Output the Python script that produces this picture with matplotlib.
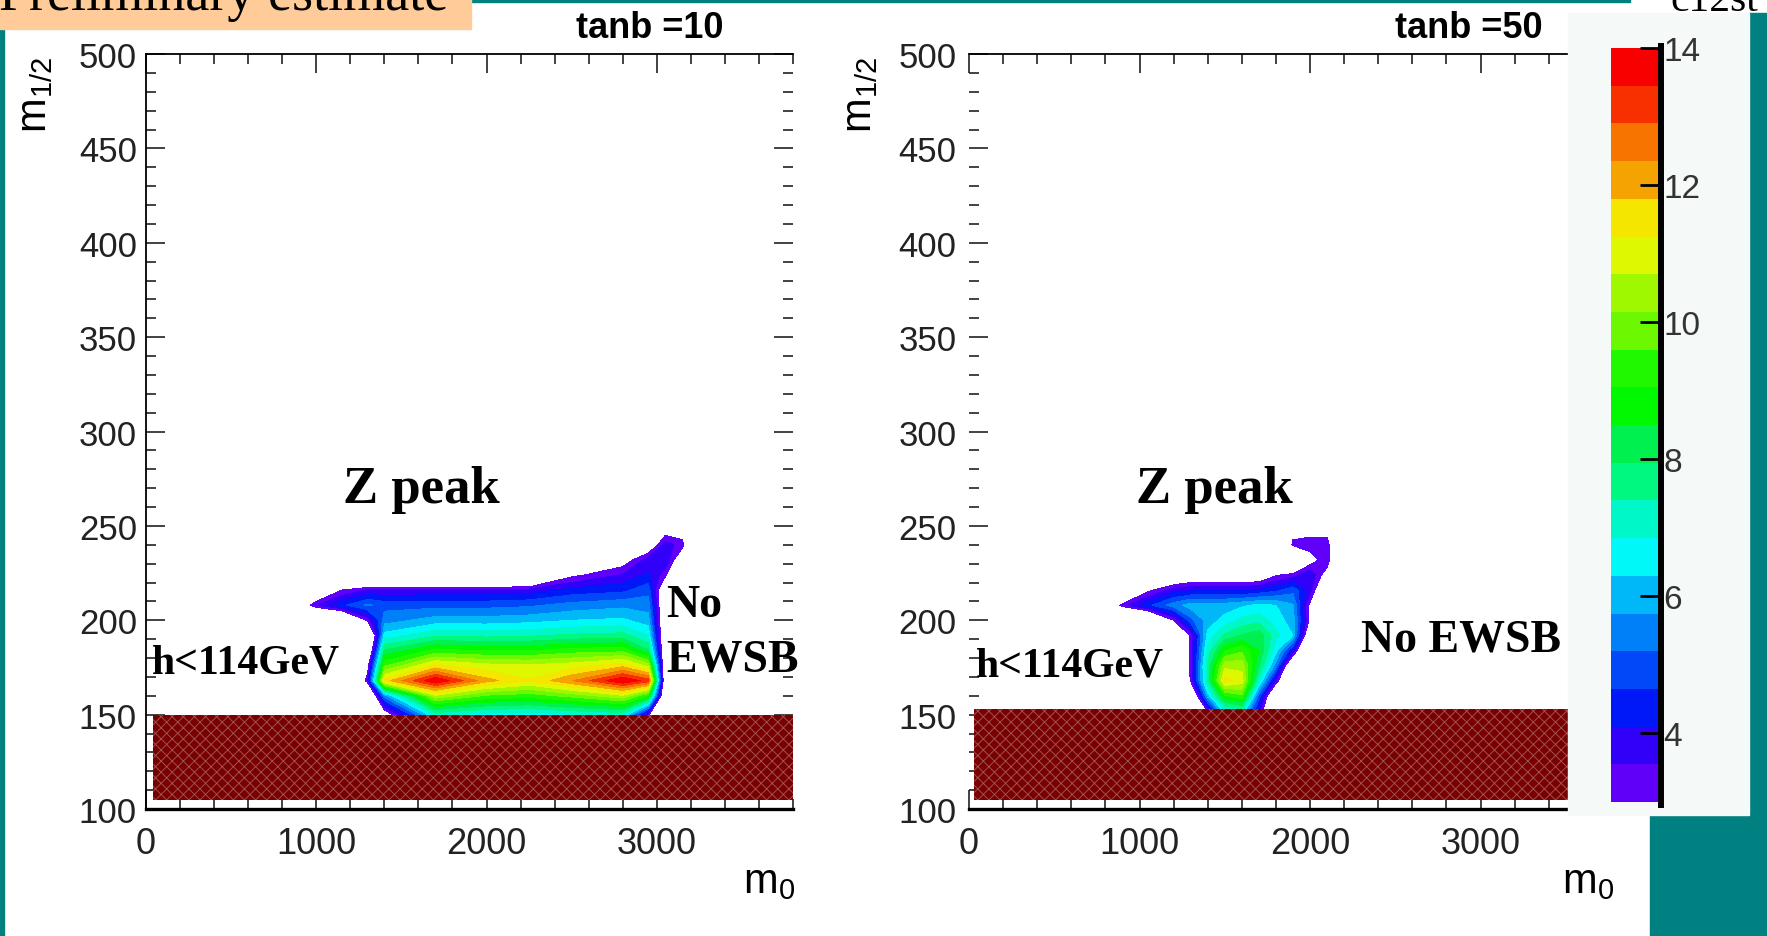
import numpy as np
import matplotlib
matplotlib.use("Agg")
import matplotlib.pyplot as plt
from matplotlib.patches import Rectangle
from matplotlib.lines import Line2D
from matplotlib.ticker import MultipleLocator

plt.rcParams['font.family'] = ['Liberation Sans', 'DejaVu Sans']
plt.rcParams['mathtext.fontset'] = 'custom'
plt.rcParams['mathtext.rm'] = 'Liberation Sans'
plt.rcParams['mathtext.it'] = 'Liberation Sans'
plt.rcParams['hatch.linewidth'] = 0.7

# ---------------- escaneo tanb = 10 ----------------
m0_tb10 = [900, 1000, 1150, 1300, 1400, 1700, 2000, 2250, 2500, 2800, 2950, 3050, 3150, 3250]
m12_tb10 = [140, 150, 160, 168, 176, 184, 192, 200, 208, 216, 224, 232, 240, 248]
val_tb10 = [
    [0, 0, 0, 0, 1.5, 6.5, 6.0, 6.0, 6.3, 6.5, 2.5, 0, 0, 0],
    [0, 0, 0, 0, 2.2, 7.0, 6.6, 6.5, 6.8, 7.0, 3.2, 0, 0, 0],
    [0, 0, 0, 0.5, 5.5, 10.6, 9.5, 9.3, 9.8, 10.6, 9.0, 1.0, 0, 0],
    [0, 0, 0, 3.3, 11.5, 14.0, 12.0, 11.3, 12.3, 14.0, 13.2, 1.5, 0, 0],
    [0, 0, 0, 2.5, 9.5, 11.4, 10.9, 10.8, 11.0, 11.6, 10.5, 1.5, 0, 0],
    [0, 0, 0, 1.0, 8.0, 9.2, 9.0, 9.0, 9.3, 9.4, 8.0, 1.5, 0, 0],
    [0, 0, 0, 0, 6.5, 7.3, 7.2, 7.3, 7.5, 7.6, 6.8, 1.5, 0, 0],
    [0, 0, 0.5, 3.1, 5.5, 6.0, 6.0, 6.1, 6.3, 6.4, 6.0, 1.5, 0, 0],
    [2.0, 3.5, 4.5, 5.3, 5.0, 5.0, 5.0, 5.1, 5.4, 5.6, 5.5, 1.5, 0, 0],
    [0, 1.5, 3.0, 3.6, 3.6, 3.7, 3.7, 3.8, 4.3, 4.5, 5.0, 1.5, 0, 0],
    [0, 0, 0, 0, 0, 0, 0, 0, 2.8, 3.6, 4.2, 3.2, 0, 0],
    [0, 0, 0, 0, 0, 0, 0, 0, 0, 2.5, 3.8, 4.0, 2.0, 0],
    [0, 0, 0, 0, 0, 0, 0, 0, 0, 0, 2.0, 3.8, 3.3, 0],
    [0, 0, 0, 0, 0, 0, 0, 0, 0, 0, 0, 2.5, 2.4, 0],
]

# ---------------- escaneo tanb = 50 ----------------
m0_tb50 = [800, 900, 1050, 1200, 1300, 1400, 1500, 1600, 1700, 1800, 1900, 2000, 2100, 2200]
m12_tb50 = [140, 150, 160, 168, 176, 184, 192, 200, 208, 216, 224, 232, 240, 248]
val_tb50 = [
    [0, 0, 0, 0, 0, 2.0, 5.5, 6.0, 3.0, 0, 0, 0, 0, 0],
    [0, 0, 0, 0, 0, 2.5, 6.0, 6.5, 3.5, 0, 0, 0, 0, 0],
    [0, 0, 0, 0, 1.0, 6.0, 9.0, 9.5, 5.0, 1.0, 0, 0, 0, 0],
    [0, 0, 0, 0, 3.1, 7.5, 11.5, 11.0, 7.0, 3.5, 0, 0, 0, 0],
    [0, 0, 0, 0, 3.2, 7.5, 10.5, 10.5, 8.0, 5.5, 1.0, 0, 0, 0],
    [0, 0, 0, 0, 3.2, 7.0, 9.0, 9.5, 8.5, 6.5, 4.0, 0, 0, 0],
    [0, 0, 0, 0, 3.2, 6.5, 7.5, 8.0, 8.3, 7.0, 6.3, 1.5, 0, 0],
    [0, 0, 0.5, 3.0, 5.0, 6.0, 6.5, 7.0, 7.2, 6.6, 6.0, 2.8, 0, 0],
    [1.5, 3.3, 4.5, 5.5, 6.0, 6.0, 6.0, 6.2, 6.4, 6.3, 5.8, 2.8, 0, 0],
    [0, 0, 2.8, 3.8, 4.0, 4.0, 4.0, 4.0, 4.2, 4.5, 5.0, 3.8, 1.0, 0],
    [0, 0, 0, 1.5, 2.0, 2.0, 2.0, 2.0, 2.0, 2.9, 3.3, 4.0, 2.5, 0],
    [0, 0, 0, 0, 0, 0, 0, 0, 0, 0, 0, 2.5, 3.5, 0],
    [0, 0, 0, 0, 0, 0, 0, 0, 0, 0, 3.2, 3.4, 3.4, 0],
    [0, 0, 0, 0, 0, 0, 0, 0, 0, 0, 2.6, 2.6, 2.6, 0],
]

# zona excluida h<114GeV: (m0 min, m0 max, m12 min, m12 max)
zona_h_tb10 = (40, 3800, 105, 150)
zona_h_tb50 = (30, 3800, 105, 153)

# escala de colores (paleta tipo ROOT, de abajo hacia arriba)
paleta = ['#6000F8', '#3000F8', '#0018F8', '#0048F8', '#0080F8', '#00B8F8',
          '#00F8F8', '#00F8C8', '#00F880', '#00F050', '#00F800', '#20F800',
          '#6CF800', '#A0F800', '#DDF800', '#F5E600', '#F5A300', '#F87400',
          '#F83000', '#F80000']
niveles = np.linspace(3, 14, len(paleta) + 1)
ticks_barra = [4, 6, 8, 10, 12, 14]

W, H = 1767, 937
def fx(x):
    return x / W
def fy(y):
    return 1 - y / H

teal = '#008080'
fig = plt.figure(figsize=(W / 100, H / 100), dpi=100)

# fondo de la diapositiva
fig.add_artist(Rectangle((0, 0), fx(4), fy(30), transform=fig.transFigure, color=teal, zorder=0))
fig.add_artist(Rectangle((fx(471), fy(3)), fx(1630 - 471), 3 / H, transform=fig.transFigure, color=teal, zorder=0))
fig.add_artist(Rectangle((fx(1749), fy(816)), fx(18), (816 - 14) / H, transform=fig.transFigure, color=teal, zorder=0))
fig.add_artist(Rectangle((fx(1650), 0), fx(117), fy(816), transform=fig.transFigure, color=teal, zorder=0))
fig.add_artist(Rectangle((0, fy(30)), fx(471), 30 / H, transform=fig.transFigure, color='#FFCC99', zorder=1))
fig.text(fx(448), fy(10), "Preliminary estimate", family='Liberation Serif', fontsize=39,
         ha='right', va='baseline', zorder=2)
fig.text(fx(1758), fy(11), "c12st", family='Liberation Serif', fontsize=30,
         ha='right', va='baseline', zorder=2)

ax1 = fig.add_axes([fx(146), fy(810), (793 - 146) / W, (810 - 55) / H])
ax2 = fig.add_axes([fx(969), fy(810), (1617 - 969) / W, (810 - 55) / H])

paneles = [
    (ax1, m0_tb10, m12_tb10, val_tb10, zona_h_tb10, 6.5),
    (ax2, m0_tb50, m12_tb50, val_tb50, zona_h_tb50, 9),
]
for ax, m0, m12, val, zona, pad_y in paneles:
    X, Y = np.meshgrid(m0, m12)
    cs = ax.contourf(X, Y, np.array(val), levels=niveles, colors=paleta, zorder=1)
    x0, x1, y0, y1 = zona
    ax.add_patch(Rectangle((x0, y0), x1 - x0, y1 - y0, facecolor='#780000',
                           edgecolor='#a05050', hatch='xxx', linewidth=0, zorder=2))
    ax.set_xlim(0, 3800)
    ax.set_ylim(100, 500)
    ax.set_xticks([0, 1000, 2000, 3000])
    ax.set_yticks([100, 150, 200, 250, 300, 350, 400, 450, 500])
    ax.xaxis.set_minor_locator(MultipleLocator(200))
    ax.yaxis.set_minor_locator(MultipleLocator(10))
    ax.tick_params(which='both', direction='in', top=True, right=True, width=1.2, color='#222222')
    ax.tick_params(which='major', length=14)
    ax.tick_params(which='minor', length=7.5)
    ax.tick_params(axis='x', labelsize=26, pad=12)
    ax.tick_params(axis='y', labelsize=25, pad=pad_y)
    for lab in ax.get_xticklabels() + ax.get_yticklabels():
        lab.set_color('#222222')
    ax.spines['top'].set_linewidth(1.3)
    ax.spines['left'].set_linewidth(1.3)
    ax.spines['bottom'].set_linewidth(2.4)
    ax.set_facecolor('white')

ax1.spines['right'].set_visible(False)
ax2.spines['left'].set_visible(False)
ax2.spines['right'].set_visible(False)

# titulos y nombres de ejes
fig.text(fx(650), fy(38), "tanb =10", fontsize=26, fontweight='bold', ha='center', va='baseline')
fig.text(fx(1469), fy(38), "tanb =50", fontsize=26, fontweight='bold', ha='center', va='baseline')
for xl in (35, 860):
    fig.text(fx(xl), fy(57), r"m$_{1/2}$", fontsize=30, rotation=90, ha='center', va='top')
for xr in (795, 1614):
    fig.text(fx(xr), fy(893), r"m$_{0}$", fontsize=30, ha='right', va='baseline')

# anotaciones
serif = dict(family='Liberation Serif', fontweight='bold', va='baseline', ha='left', zorder=5)
fig.text(fx(343), fy(503), "Z peak", fontsize=38, **serif)
fig.text(fx(1136), fy(503), "Z peak", fontsize=38, **serif)
fig.text(fx(152), fy(673), "h<114GeV", fontsize=30, **serif)
fig.text(fx(976), fy(677), "h<114GeV", fontsize=30, **serif)
fig.text(fx(666), fy(617), "No", fontsize=33, **serif)
fig.text(fx(666), fy(672), "EWSB", fontsize=33, **serif)
fig.text(fx(1361), fy(652), "No EWSB", fontsize=33, **serif)

# panel de la barra de colores
fig.add_artist(Rectangle((fx(1568), fy(816)), fx(1749 - 1568), (816 - 14) / H,
                         transform=fig.transFigure, color='#F5F9F7', zorder=1))
cax = fig.add_axes([fx(1611), fy(803), 47 / W, (803 - 49) / H])
cax.set_zorder(2)
cb = fig.colorbar(cs, cax=cax, ticks=ticks_barra)
cb.outline.set_visible(False)
cax.tick_params(direction='in', length=13, width=2, color='black', labelsize=24,
                labelcolor='#333333', pad=4)
fig.add_artist(Line2D([fx(1661), fx(1661)], [fy(806), fy(47)], transform=fig.transFigure,
                      color='black', linewidth=4.3, zorder=3))

fig.savefig("out.png", dpi=100)
